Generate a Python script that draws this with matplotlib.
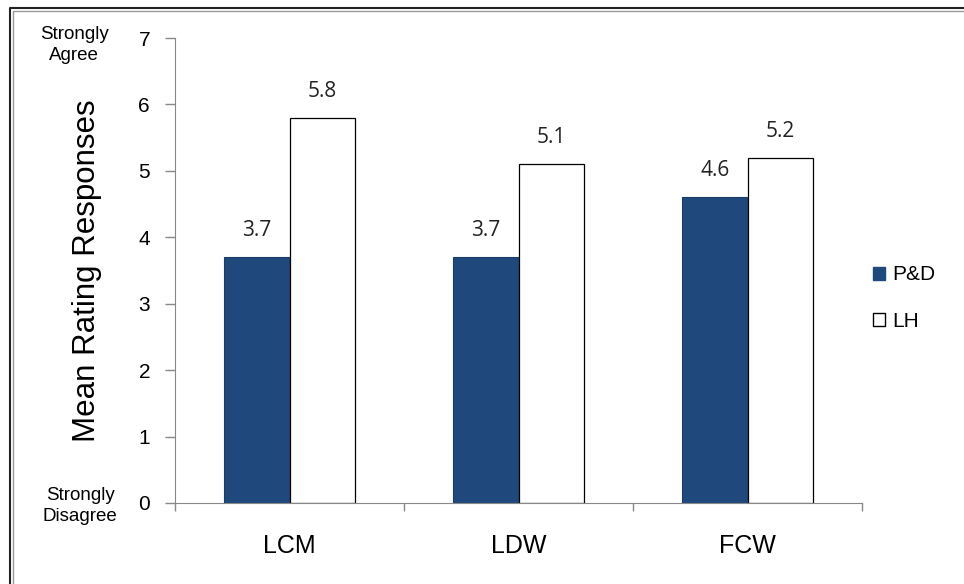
import matplotlib
matplotlib.use("Agg")
import matplotlib.pyplot as plt
import numpy as np
from matplotlib.lines import Line2D
from matplotlib.patches import Patch

categories = ["LCM", "LDW", "FCW"]
series_names = ["P&D", "LH"]
pd_values = [3.7, 3.7, 4.6]
lh_values = [5.8, 5.1, 5.2]
y_ticks = [0, 1, 2, 3, 4, 5, 6, 7]

sans = ["Liberation Sans", "DejaVu Sans"]
plt.rcParams["font.family"] = sans

fig = plt.figure(figsize=(9.64, 5.84), dpi=100)
ax = fig.add_axes([175 / 964, 81 / 584, 687 / 964, 465 / 584])

x = np.arange(len(categories))
w = 0.284
blue = "#1F497D"
b1 = ax.bar(x - w / 2, pd_values, w, color=blue, edgecolor="#1a3c66", linewidth=0.8)
b2 = ax.bar(x + w / 2, lh_values, w, color="white", edgecolor="black", linewidth=0.9)

for bars, vals in ((b1, pd_values), (b2, lh_values)):
    for rect, v in zip(bars, vals):
        ax.text(rect.get_x() + rect.get_width() / 2, v + 0.24, f"{v:.1f}",
                ha="center", va="bottom", fontsize=15, color="#222222",
                family=["Open Sans", "DejaVu Sans"])

ax.set_xlim(-0.5, len(categories) - 0.5)
ax.set_ylim(0, 7)
ax.set_yticks(y_ticks)
ax.set_yticklabels([str(t) for t in y_ticks], fontsize=15)
ax.set_xticks(x)
ax.set_xticklabels(categories, fontsize=18)
ax.tick_params(axis="x", length=0, pad=22)
ax.tick_params(axis="y", length=7, color="#888888", width=1, pad=11)
# category separators on the x axis
ax.set_xticks(np.arange(len(categories) + 1) - 0.5, minor=True)
ax.tick_params(axis="x", which="minor", length=6, color="#888888", width=1, direction="out")

for s in ("top", "right"):
    ax.spines[s].set_visible(False)
ax.spines["left"].set_color("#888888")
ax.spines["bottom"].set_color("#888888")

ax.set_ylabel("Mean Rating Responses", fontsize=22.5)
ax.yaxis.set_label_coords(-73 / 687, 0.5)

fig.text(74 / 964, 1 - 45 / 584, "Strongly\nAgree", ha="center", va="center",
         fontsize=13.5, linespacing=1.25)
fig.text(80 / 964, 1 - 506 / 584, "Strongly\nDisagree", ha="center", va="center",
         fontsize=13.5, linespacing=1.25)

handles = [Patch(facecolor=blue, edgecolor=blue),
           Patch(facecolor="white", edgecolor="black")]
fig.legend(handles, series_names, loc="center left",
           bbox_to_anchor=(854 / 964, 1 - 298 / 584), frameon=False,
           fontsize=15, handlelength=0.6, handleheight=0.6, handletextpad=0.35,
           labelspacing=1.3)

# outer frame
fig.add_artist(Line2D([10 / 964, 10 / 964, 1.0], [0.0, 1 - 8 / 584, 1 - 8 / 584],
                      transform=fig.transFigure, color="#222222", linewidth=1.5))
fig.add_artist(Line2D([12.5 / 964, 12.5 / 964, 1.0], [0.0, 1 - 10.5 / 584, 1 - 10.5 / 584],
                      transform=fig.transFigure, color="#999999", linewidth=1.0))

fig.savefig("out.png", dpi=100)
